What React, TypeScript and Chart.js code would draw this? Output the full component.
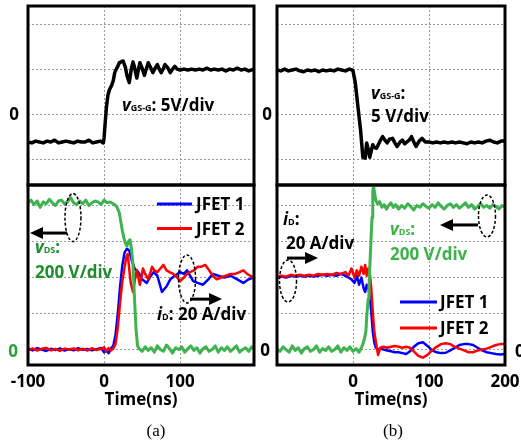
import { useEffect, useRef } from 'react';
import { Chart, registerables } from 'chart.js';
Chart.register(...registerables);

// ---------------- data ----------------
// (a) top: v_GS-G (V)
const tVgsA = [-100,-95,-90,-85,-80,-75,-70,-65,-60,-55,-50,-45,-40,-35,-30,-25,-20,-15,-10,-5,-1,
  0,1.5,3,5,7,10,12,14,16,18,20,22,25,28,30,33,36,38,40,43,45,47,50,53,55,58,61,64,67,70,72,75,78,80,84,87,90,93,96,
  100,105,110,115,120,125,130,135,140,145,150,155,160,165,170,175,180,185,190,197];
const vgsA = [-3.0,-3.1,-2.9,-3.0,-3.1,-2.9,-3.0,-2.8,-3.1,-3.0,-2.9,-3.0,-3.1,-2.9,-3.0,-3.0,-2.8,-3.1,-3.0,-2.9,-3.1,
  -2.5,-0.8,0.8,2.2,2.8,3.3,3.8,4.7,5.1,5.4,5.8,5.9,6.0,5.3,4.4,3.6,5.2,5.9,5.3,4.1,5.0,5.8,5.2,4.4,5.0,5.8,5.3,4.7,5.2,5.6,5.2,4.7,5.2,5.6,5.2,4.7,5.1,5.4,5.1,
  5.0,5.1,5.0,5.1,5.0,5.1,5.0,5.2,5.0,5.1,5.0,5.1,4.9,5.1,5.0,5.2,5.0,5.1,4.9,5.1];

// (b) top: v_GS-G (V)
const tVgsB = [-100,-95,-90,-85,-80,-75,-70,-65,-60,-55,-50,-45,-40,-35,-30,-25,-20,-15,-10,-5,-1,
  0,3,6.5,10,13,16,18,20,22,24,26,28,31,35,39,42,45,48,52,55,58,62,65,68,71,74,77,80,83,87,91,95,
  100,105,110,115,120,125,130,135,140,145,150,155,160,165,170,175,180,185,190,195,200];
const vgsB = [5.0,4.9,5.1,4.9,5.0,5.1,4.9,4.8,5.0,4.9,5.0,4.8,5.0,4.9,5.0,4.9,5.1,5.0,4.9,5.1,5.0,
  4.9,3.6,0.9,-1.7,-4.7,-4.8,-3.1,-3.8,-4.7,-4.0,-3.3,-3.6,-3.7,-3.0,-2.4,-2.8,-3.1,-2.7,-2.6,-3.1,-3.5,-3.0,-2.8,-3.2,-3.0,-2.8,-2.4,-3.0,-3.5,-2.9,-2.6,-3.0,
  -3.0,-3.1,-3.0,-3.1,-3.0,-3.1,-3.0,-3.1,-3.0,-3.1,-3.2,-3.0,-3.1,-3.0,-3.1,-2.9,-2.8,-3.0,-3.1,-2.9,-2.9];

// (a) bottom: v_DS (V)
const tVdsA = [-100,-96,-92,-88,-84,-80,-76,-72,-68,-64,-60,-56,-52,-48,-44,-40,-36,-32,-28,-24,
  -20,-16,-12,-8,-4,0,4,8,12,15,17,20,22,24,26,28,30,32,34,36,38,40,42,44,46,50,54,58,62,66,
  70,74,78,82,86,90,94,98,102,106,110,114,118,122,126,130,134,138,142,146,150,154,158,162,166,170,174,178,182,186,190,194,197];
const vdsA = [815,830,805,825,790,820,810,835,815,800,825,830,810,820,845,815,805,825,810,830,
  800,815,825,820,805,830,815,820,810,800,790,760,710,660,620,590,575,600,610,560,
  470,280,110,20,5,-10,15,-5,10,-15,20,0,-10,25,5,-20,10,0,15,-15,
  5,20,-5,10,-20,5,15,-10,0,20,-15,10,-5,15,-10,5,20,-15,0,10,-10,15,5];

// (a) bottom: i_D JFET 1 (A)
const tId1A = [-100,-94,-88,-82,-76,-70,-64,-58,-52,-46,-40,-34,-28,-22,-16,-10,-4,0,3,6,
  9,12,15,18,21,24,27,30,33,36,40,45,50,56,60,65,70,76,82,87,93,100,105,109,113,117,123,130,137,143,150,158,166,175,183,190,197];
const id1A = [0.5,-0.5,0.8,0,-0.8,0.4,-0.3,0.6,-0.6,0.2,-0.4,0.7,-0.2,0.3,-0.5,0.2,0.8,-1.5,-0.5,-2,
  0.5,2,8,20,35,47,54,56,55,50,45,43,39,37,40,43,41,32,35,39,41,43,42,44,41,38,37,36,39,42,41,40,41,39,37,39,40];

// (a) bottom: i_D JFET 2 (A)
const tId2A = [-100,-94,-88,-82,-76,-70,-64,-58,-52,-46,-40,-34,-28,-22,-16,-10,-4,0,3,6,
  9,12,15,18,21,24,27,29,31,33,35,38,41,43,45,47,49,51,54,58,61,63,66,70,74,78,82,86,91,96,
  100,105,109,113,118,123,128,133,138,143,148,154,160,166,172,178,183,188,192,197];
const id2A = [-0.3,0.6,-0.6,0.4,0.9,-0.5,0.3,-0.8,0.5,0,0.6,-0.4,0.4,-0.6,0.7,-0.3,0.4,1.2,-1,0.8,
  -0.5,0.5,3,12,26,38,46,51,53,45,37,32,40,44,40,36,40,45,42,39,43,46,44,43,45,47,44,43,42,40,
  38,40,42,43,44,46,46,47,44,41,39,40,41,42,42,43,44,42,41,40];

// (b) bottom: v_DS (V)
const tVdsB = [-100,-96,-92,-88,-84,-80,-76,-72,-68,-64,-60,-56,-52,-48,-44,-40,-36,-32,-28,-24,
  -20,-16,-12,-8,-4,0,4,8,11,13,15,17,18,20,21,22,23,24,25,26,27,28,30,32,35,38,41,44,47,50,
  53,56,60,64,68,72,76,80,84,88,92,96,100,104,108,112,116,120,124,128,132,136,140,144,148,152,156,160,164,168,
  172,176,180,184,188,192,196,200];
const vdsB = [5,-10,15,0,-15,20,-5,10,-20,5,15,-10,0,20,-15,5,-5,15,-10,0,
  20,-15,10,-5,15,-10,5,-15,10,30,60,100,180,280,344,450,544,640,733,880,910,880,830,810,822,790,805,780,800,815,
  790,805,780,800,785,810,795,775,800,790,810,795,785,805,790,815,795,780,800,810,790,805,785,800,815,790,805,780,795,810,
  790,800,785,805,795,780,800,790];

// (b) bottom: i_D (A), shared time base
const tIdB = [-100,-94,-88,-82,-76,-70,-64,-58,-52,-46,-40,-34,-28,-22,-16,-10,-6,-2,2,5,
  8,11,14,16,18,20,22,24,26,28,30,33,36,40,45,50,55,60,65,70,
  75,80,86,92,98,104,110,116,122,128,134,140,146,152,158,164,170,176,182,188,194,200];
const id1B = [40,40.5,40,41,40.5,41,40.5,41,40.5,41,41.5,41,41.5,41,42,41,40,39,37,41,
  36,40,34,32,36,35,30,21,10,4,1,0,0.5,0,-0.5,-1,-1.5,-1.5,-2,-2.5,
  -1,1.5,3.5,4,2,-0.5,-1.5,-2,-1.8,-0.5,1,2.5,3,3,2.5,1,-0.5,-1.5,-2,-2.5,-2.8,-2.5];
const id2B = [40.5,41,40.5,41.5,41,41.5,41,41.5,41,42,41.5,42,41.5,42.5,42,43,41,45,40,44,
  41,46,42,47,41,45,43,34,21,10,4.5,-3,1,1.5,1,1.5,2,1.5,1,1.5,
  1,-1,-3.5,-4.5,-3,-0.5,1.5,3,3.5,3,1.5,0.5,-0.5,-1.5,-1.5,-0.5,0,0.5,1.5,2.5,3,3];

// ticks
const xTicksA = [-100, 0, 100];
const xLabelsA = ['-100', '0', '100'];
const xTicksB = [0, 100, 200];
const xLabelsB = ['0', '100', '200'];
const vgsTicks = [-5, 0, 5, 10];
const vdsTicks = [0, 200, 400, 600, 800];
const idTicks = [0, 20, 40, 60, 80];

// ---------------- styling ----------------
const FONT = '"Open Sans", sans-serif';
const BD = `bold 17px ${FONT}`;
const IT = `italic bold 17px ${FONT}`;
const SUB = `bold 9px ${FONT}`;
const GRID = '#9a9a9a';
const GREEN = '#3fb34f';
const DKGREEN = '#1f8f2e';
const LTGREEN = '#3db14a';
const tickFont = { family: FONT, size: 17, weight: 'bold' as const, lineHeight: 1.2 };

const pts = (t: number[], v: number[]) => t.map((x, i) => ({ x, y: v[i] }));
const fixTicks = (values: number[]) => (s: any) => { s.ticks = values.map((v) => ({ value: v })); };
const squash = (dim: 'width' | 'height', size: number) => (s: any) => {
  s[dim] = size;
  s.paddingLeft = 0; s.paddingRight = 0; s.paddingTop = 0; s.paddingBottom = 0;
};

function xScale(min: number, max: number, ticks: number[], labels: string[] | null) {
  return {
    type: 'linear', position: 'bottom', min, max,
    afterBuildTicks: fixTicks(ticks),
    ticks: labels
      ? { display: true, font: tickFont, color: '#000', padding: 7, maxRotation: 0, autoSkip: false, callback: (_v: any, i: number) => labels[i] }
      : { display: false },
    grid: { color: GRID, lineWidth: 1, drawTicks: false },
    border: { display: false, dash: [2, 2] },
    title: labels
      ? { display: true, text: 'Time(ns)', font: tickFont, color: '#000', padding: { top: 0, bottom: 0 } }
      : { display: false },
    afterFit: squash('height', labels ? 45 : 0),
  };
}

function yScale(position: string, min: number, max: number, ticks: number[], color: string, pad: number, offset: number, grid: boolean, width: number) {
  return {
    type: 'linear', position, min, max,
    afterBuildTicks: fixTicks(ticks),
    ticks: { display: true, font: tickFont, color, padding: pad, labelOffset: offset, autoSkip: false, callback: (v: any) => (v === 0 ? '0' : '') },
    grid: { display: grid, color: GRID, lineWidth: 1, drawTicks: false },
    border: { display: false, dash: [2, 2] },
    afterFit: squash('width', width),
  };
}

function notesPlugin(yId: string, notes: any[]) {
  return {
    id: 'notes',
    afterDraw(chart: any) {
      const { ctx, chartArea: a } = chart;
      const xs = chart.scales.x;
      const ys = chart.scales[yId];
      ctx.save();
      ctx.setLineDash([]);
      ctx.strokeStyle = '#000';
      ctx.lineWidth = 3;
      ctx.strokeRect(a.left, a.top, a.right - a.left, a.bottom - a.top);
      for (const n of notes) {
        if (n.kind === 'text') {
          let px = xs.getPixelForValue(n.x);
          const py = ys.getPixelForValue(n.y);
          ctx.fillStyle = n.color || '#000';
          ctx.textAlign = 'left';
          ctx.textBaseline = 'alphabetic';
          for (const r of n.runs) {
            ctx.font = r.f;
            ctx.fillText(r.t, px, py + (r.dy || 0));
            px += ctx.measureText(r.t).width;
          }
        } else if (n.kind === 'arrow') {
          const x1 = xs.getPixelForValue(n.x1);
          const x2 = xs.getPixelForValue(n.x2);
          const y = ys.getPixelForValue(n.y);
          const dir = Math.sign(x2 - x1);
          const head = 13, hw = 6;
          ctx.setLineDash([]);
          ctx.strokeStyle = '#000';
          ctx.lineWidth = 3;
          ctx.beginPath();
          ctx.moveTo(x1, y);
          ctx.lineTo(x2 - dir * head, y);
          ctx.stroke();
          ctx.fillStyle = '#000';
          ctx.beginPath();
          ctx.moveTo(x2, y);
          ctx.lineTo(x2 - dir * head, y - hw);
          ctx.lineTo(x2 - dir * head, y + hw);
          ctx.closePath();
          ctx.fill();
        } else if (n.kind === 'ellipse') {
          const cx = xs.getPixelForValue(n.x);
          const cy = ys.getPixelForValue(n.y);
          ctx.setLineDash([3, 2]);
          ctx.strokeStyle = '#000';
          ctx.lineWidth = 1.5;
          ctx.beginPath();
          ctx.ellipse(cx, cy, n.rx, n.ry, 0, 0, Math.PI * 2);
          ctx.stroke();
          ctx.setLineDash([]);
        } else if (n.kind === 'legend') {
          const ds = chart.data.datasets[n.ds];
          const x1 = xs.getPixelForValue(n.x1);
          const x2 = xs.getPixelForValue(n.x2);
          const tx = xs.getPixelForValue(n.tx);
          const y = ys.getPixelForValue(n.y);
          ctx.setLineDash([]);
          ctx.strokeStyle = ds.borderColor;
          ctx.lineWidth = 3;
          ctx.beginPath();
          ctx.moveTo(x1, y);
          ctx.lineTo(x2, y);
          ctx.stroke();
          ctx.fillStyle = '#000';
          ctx.font = BD;
          ctx.textAlign = 'left';
          ctx.textBaseline = 'alphabetic';
          ctx.fillText(ds.label, tx, y + 6);
        }
      }
      ctx.restore();
    },
  };
}

const VGS_MIN = -7.78, VGS_MAX = 12.11;
const VDS_MIN = -86, VDS_MAX = 914;
const ID_MIN = -8.6, ID_MAX = 91.4;

function baseOptions(padding: any, scales: any) {
  return {
    responsive: false,
    maintainAspectRatio: false,
    animation: false,
    devicePixelRatio: 1,
    events: [],
    layout: { padding },
    plugins: { legend: { display: false }, tooltip: { enabled: false } },
    elements: { point: { radius: 0 }, line: { tension: 0, borderJoinStyle: 'round', borderCapStyle: 'round' } },
    scales,
  };
}

const vgsRuns = [{ t: 'v', f: IT }, { t: 'GS-G', f: SUB }];

function cfgTopA(): any {
  return {
    type: 'line',
    data: { datasets: [{ label: 'vGS-G', data: pts(tVgsA, vgsA), borderColor: '#000', borderWidth: 3.5, yAxisID: 'y' }] },
    options: baseOptions({ left: 0, right: 267, top: 6, bottom: 263 }, {
      x: xScale(-100, 197, xTicksA, null),
      y: yScale('left', VGS_MIN, VGS_MAX, vgsTicks, '#000', 9, 0, true, 28),
    }),
    plugins: [notesPlugin('y', [
      { kind: 'text', x: 23.5, y: 0.44, color: '#000', runs: [...vgsRuns, { t: ': 5V/div', f: BD }] },
    ])],
  };
}

function cfgTopB(): any {
  return {
    type: 'line',
    data: { datasets: [{ label: 'vGS-G', data: pts(tVgsB, vgsB), borderColor: '#000', borderWidth: 3.5, yAxisID: 'y' }] },
    options: baseOptions({ left: 257, right: 16, top: 6, bottom: 263 }, {
      x: xScale(-100, 200, xTicksB, null),
      y: yScale('left', VGS_MIN, VGS_MAX, vgsTicks, '#000', 5, 0, true, 20),
    }),
    plugins: [notesPlugin('y', [
      { kind: 'text', x: 23.7, y: 1.78, color: '#000', runs: [...vgsRuns, { t: ':', f: BD }] },
      { kind: 'text', x: 23.7, y: -0.78, color: '#000', runs: [{ t: '5 V/div', f: BD }] },
    ])],
  };
}

function cfgBotA(): any {
  return {
    type: 'line',
    data: {
      datasets: [
        { label: 'vDS', data: pts(tVdsA, vdsA), borderColor: GREEN, borderWidth: 3, yAxisID: 'yV' },
        { label: 'JFET 2', data: pts(tId2A, id2A), borderColor: '#ff0000', borderWidth: 2.5, yAxisID: 'yI' },
        { label: 'JFET 1', data: pts(tId1A, id1A), borderColor: '#0000ff', borderWidth: 2.5, yAxisID: 'yI' },
      ],
    },
    options: baseOptions({ left: 0, right: 267, top: 185, bottom: 38 }, {
      x: xScale(-100, 197, xTicksA, xLabelsA),
      yV: yScale('left', VDS_MIN, VDS_MAX, vdsTicks, '#2ea043', 10, 3, true, 28),
      yI: { type: 'linear', position: 'right', display: false, min: ID_MIN, max: ID_MAX },
    }),
    plugins: [notesPlugin('yV', [
      { kind: 'text', x: -90.8, y: 536, color: DKGREEN, runs: [{ t: 'v', f: IT }, { t: 'DS', f: SUB }, { t: ':', f: BD }] },
      { kind: 'text', x: -90.8, y: 397, color: DKGREEN, runs: [{ t: '200 V/div', f: BD }] },
      { kind: 'arrow', x1: -48.7, x2: -97.4, y: 647 },
      { kind: 'ellipse', x: -40.9, y: 733, rx: 8, ry: 24 },
      { kind: 'text', x: 69.5, y: 164, color: '#000', runs: [{ t: 'i', f: IT }, { t: 'D', f: SUB }, { t: ': 20 A/div', f: BD }] },
      { kind: 'arrow', x1: 112.9, x2: 155, y: 280 },
      { kind: 'ellipse', x: 109, y: 392, rx: 8.5, ry: 24 },
      { kind: 'legend', ds: 2, x1: 69.5, x2: 115.5, tx: 120.8, y: 808 },
      { kind: 'legend', ds: 1, x1: 69.5, x2: 115.5, tx: 120.8, y: 672 },
    ])],
  };
}

function cfgBotB(): any {
  return {
    type: 'line',
    data: {
      datasets: [
        { label: 'vDS', data: pts(tVdsB, vdsB), borderColor: GREEN, borderWidth: 3, yAxisID: 'yV' },
        { label: 'JFET 2', data: pts(tIdB, id2B), borderColor: '#ff0000', borderWidth: 2.5, yAxisID: 'yI' },
        { label: 'JFET 1', data: pts(tIdB, id1B), borderColor: '#0000ff', borderWidth: 2.5, yAxisID: 'yI' },
      ],
    },
    options: baseOptions({ left: 257, right: 0, top: 185, bottom: 38 }, {
      x: xScale(-100, 200, xTicksB, xLabelsB),
      yI: yScale('left', ID_MIN, ID_MAX, idTicks, '#000', 7, 2, false, 20),
      yV: yScale('right', VDS_MIN, VDS_MAX, vdsTicks, '#000', 10, 3, true, 16),
    }),
    plugins: [notesPlugin('yV', [
      { kind: 'text', x: -92.1, y: 692, color: '#000', runs: [{ t: 'i', f: IT }, { t: 'D', f: SUB }, { t: ':', f: BD }] },
      { kind: 'text', x: -88.2, y: 556, color: '#000', runs: [{ t: '20 A/div', f: BD }] },
      { kind: 'arrow', x1: -86.8, x2: -46, y: 508 },
      { kind: 'ellipse', x: -85.5, y: 381, rx: 8.5, ry: 21 },
      { kind: 'text', x: 48.7, y: 636, color: LTGREEN, runs: [{ t: 'v', f: IT }, { t: 'DS', f: SUB }, { t: ':', f: BD }] },
      { kind: 'text', x: 48.7, y: 497, color: LTGREEN, runs: [{ t: '200 V/div', f: BD }] },
      { kind: 'arrow', x1: 164.5, x2: 114.5, y: 692 },
      { kind: 'ellipse', x: 176.3, y: 742, rx: 8.5, ry: 21 },
      { kind: 'legend', ds: 2, x1: 61.8, x2: 110.5, tx: 114.5, y: 264 },
      { kind: 'legend', ds: 1, x1: 61.8, x2: 110.5, tx: 114.5, y: 119 },
    ])],
  };
}

export default function App() {
  const r1 = useRef<HTMLCanvasElement>(null);
  const r2 = useRef<HTMLCanvasElement>(null);
  const r3 = useRef<HTMLCanvasElement>(null);
  const r4 = useRef<HTMLCanvasElement>(null);

  useEffect(() => {
    Chart.defaults.font.family = FONT;
    const charts = [
      new Chart(r1.current as HTMLCanvasElement, cfgTopA()),
      new Chart(r2.current as HTMLCanvasElement, cfgBotA()),
      new Chart(r3.current as HTMLCanvasElement, cfgTopB()),
      new Chart(r4.current as HTMLCanvasElement, cfgBotB()),
    ];
    return () => charts.forEach((c) => c.destroy());
  }, []);

  const cv = { position: 'absolute' as const, left: 0, top: 0 };
  const cap = { position: 'absolute' as const, top: 422, transform: 'translateX(-50%)', font: '17px "Liberation Serif", serif', lineHeight: '17px', color: '#000', whiteSpace: 'nowrap' as const };
  return (
    <div style={{ position: 'absolute', left: 0, top: 0, width: 521, height: 448, background: '#fff', overflow: 'hidden' }}>
      <canvas ref={r1} width={521} height={448} style={cv} />
      <canvas ref={r2} width={521} height={448} style={cv} />
      <canvas ref={r3} width={521} height={448} style={cv} />
      <canvas ref={r4} width={521} height={448} style={cv} />
      <div style={{ ...cap, left: 156 }}>(a)</div>
      <div style={{ ...cap, left: 393 }}>(b)</div>
    </div>
  );
}
